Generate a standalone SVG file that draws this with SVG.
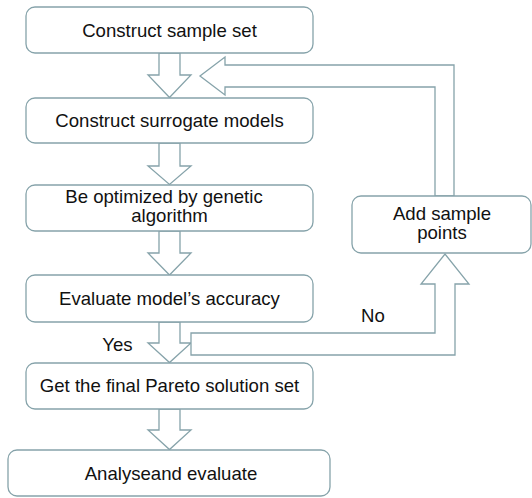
<svg xmlns="http://www.w3.org/2000/svg" width="532" height="498" viewBox="0 0 532 498">
<style>
.box{fill:#fff;stroke:#86a3aa;stroke-width:1.3}
.arr{fill:#fff;stroke:#86a3aa;stroke-width:1.3;stroke-linejoin:miter}
text{font-family:"Liberation Sans",Arial,sans-serif;font-size:18.6px;fill:#111;text-anchor:middle}
</style>
<rect width="532" height="498" fill="#fff"/>
<g id="connectors">
<polygon class="arr" points="159,53 180,53 180,75 191,75 169.5,97.5 148,75 159,75"/>
<polygon class="arr" points="159,143 180,143 180,166 191,166 169.5,184.5 148,166 159,166"/>
<polygon class="arr" points="159,231 180,231 180,253 191,253 169.5,275 148,253 159,253"/>
<polygon class="arr" points="159,322 180,322 180,343 191,343 169.5,362.5 148,343 159,343"/>
<polygon class="arr" points="159,409 180,409 180,430 191,430 169.5,449.5 148,430 159,430"/>
<polygon class="arr" points="191,333 435,333 435,284 421,284 445,254 469,284 455,284 455,355 191,355"/>
<polygon class="arr" points="454,196 454,65 225,65 225,57 200,76 225,95 225,87 435,87 435,196"/>
<text x="373" y="322">No</text>
<text x="117.5" y="350.5">Yes</text>
</g>
<g id="n1"><rect class="box" x="26" y="7" width="287" height="46" rx="9"/><text x="169.5" y="37">Construct sample set</text></g>
<g id="n2"><rect class="box" x="26" y="98" width="287" height="45" rx="9"/><text x="169.5" y="127">Construct surrogate models</text></g>
<g id="n3"><rect class="box" x="26" y="185" width="287" height="46" rx="9"/><text x="164" y="203">Be optimized by genetic</text><text x="169.5" y="222">algorithm</text></g>
<g id="n4"><rect class="box" x="26" y="275" width="287" height="47" rx="9"/><text x="169.5" y="304.5">Evaluate model’s accuracy</text></g>
<g id="n5"><rect class="box" x="26" y="363" width="287" height="46" rx="9"/><text x="169.5" y="392">Get the final Pareto solution set</text></g>
<g id="n6"><rect class="box" x="8" y="450" width="322" height="46" rx="9"/><text x="171" y="479.5">Analyseand evaluate</text></g>
<g id="n7"><rect class="box" x="352" y="196" width="179" height="57" rx="9"/><text x="442" y="219.5">Add sample</text><text x="442" y="238.5">points</text></g>
</svg>
